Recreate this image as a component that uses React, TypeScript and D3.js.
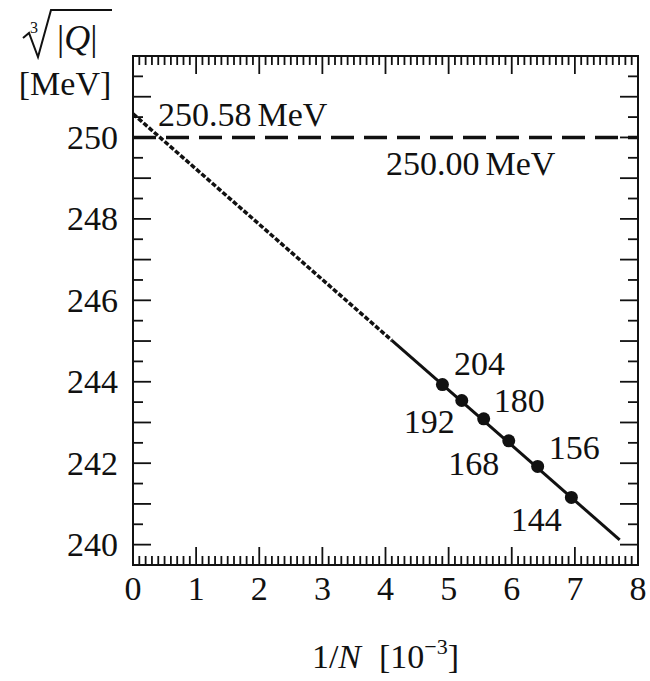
import React, { useEffect, useRef } from 'react'
import * as d3 from 'd3'

// lattice sizes N and the cube root of |Q| (MeV)
const sizes = [204, 192, 180, 168, 156, 144]
const cubeRootQ = [243.93, 243.54, 243.09, 242.55, 241.92, 241.16]

// linear fit in 1/N, extrapolated to N -> infinity
const fitIntercept = 250.58
const fitSlope = -1.357
const fitDottedEnd = 4.1
const fitEnd = 7.71
const refLevel = 250.0

const xTicks = [0, 1, 2, 3, 4, 5, 6, 7, 8]
const yTicks = [240, 242, 244, 246, 248, 250]

// where each N label sits relative to its point
const labelOffsets: [number, number, string][] = [
  [37, -10, 'middle'],
  [-7, 33, 'end'],
  [10, -7, 'start'],
  [-35, 34, 'middle'],
  [11, -7, 'start'],
  [-35, 34, 'middle'],
]

const W = 650
const H = 681
const FONT = "'Liberation Serif', 'DejaVu Serif', serif"

export default function App() {
  const ref = useRef<SVGSVGElement>(null)

  useEffect(() => {
    const svg = d3.select(ref.current)
    svg.selectAll('*').remove()

    const left = 133, right = 638, top = 56, bottom = 565
    const x = d3.scaleLinear().domain([0, 8]).range([left, right])
    const y = d3.scaleLinear().domain([239.5, 252]).range([bottom, top])

    const g = svg.append('g')

    // minor / major ticks on all four sides, pointing inwards
    const xMinor = x.ticks(80).filter(d => d > 0 && d < 8 && Math.abs(d - Math.round(d)) > 1e-6)
    const xMajor = xTicks.filter(d => d > 0 && d < 8)
    const yMinor = y.ticks(25).filter(d => d > 239.5 && d < 252 && Math.abs(d - Math.round(d)) > 1e-6)
    const yMajor = y.ticks(25).filter(d => d > 239.5 && d < 252 && Math.abs(d - Math.round(d)) < 1e-6)

    const tick = (data: number[], fn: (d: number) => [number, number, number, number]) =>
      g.append('g').selectAll('line').data(data).enter().append('line')
        .attr('x1', d => fn(d)[0]).attr('y1', d => fn(d)[1])
        .attr('x2', d => fn(d)[2]).attr('y2', d => fn(d)[3])
        .attr('stroke', '#111').attr('stroke-width', 1.8)

    tick(xMinor, d => [x(d), bottom, x(d), bottom - 9])
    tick(xMajor, d => [x(d), bottom, x(d), bottom - 18])
    tick(xMinor, d => [x(d), top, x(d), top + 9])
    tick(xMajor, d => [x(d), top, x(d), top + 18])
    tick(yMinor, d => [left, y(d), left + 10, y(d)])
    tick(yMajor, d => [left, y(d), left + 18, y(d)])
    tick(yMinor, d => [right, y(d), right - 10, y(d)])
    tick(yMajor, d => [right, y(d), right - 18, y(d)])

    // frame
    g.append('rect')
      .attr('x', left).attr('y', top)
      .attr('width', right - left).attr('height', bottom - top)
      .attr('fill', 'none').attr('stroke', '#111').attr('stroke-width', 2)

    // tick labels
    g.selectAll('.xlab').data(xTicks).enter().append('text')
      .attr('x', d => x(d)).attr('y', 600)
      .attr('text-anchor', 'middle')
      .attr('font-family', FONT).attr('font-size', 34).attr('fill', '#111')
      .text(d => d)

    g.selectAll('.ylab').data(yTicks).enter().append('text')
      .attr('x', 118).attr('y', d => y(d)).attr('dy', '0.34em')
      .attr('text-anchor', 'end')
      .attr('font-family', FONT).attr('font-size', 34).attr('fill', '#111')
      .text(d => d)

    // reference level
    g.append('line')
      .attr('x1', x(0)).attr('x2', x(8))
      .attr('y1', y(refLevel)).attr('y2', y(refLevel))
      .attr('stroke', '#111').attr('stroke-width', 3.5)
      .attr('stroke-dasharray', '23,10')

    // fitted line: dotted extrapolation, solid over the data
    const fit = (v: number) => fitIntercept + fitSlope * v
    const line = d3.line<number>().x(d => x(d)).y(d => y(fit(d)))
    g.append('path').attr('d', line([0, fitDottedEnd]))
      .attr('fill', 'none').attr('stroke', '#111').attr('stroke-width', 3.5)
      .attr('stroke-dasharray', '5,2')
    g.append('path').attr('d', line([fitDottedEnd, fitEnd]))
      .attr('fill', 'none').attr('stroke', '#111').attr('stroke-width', 3)

    // points + labels
    const pts = sizes.map((n, i) => ({ n, v: 1000 / n, q: cubeRootQ[i], off: labelOffsets[i] }))
    g.selectAll('.pt').data(pts).enter().append('circle')
      .attr('cx', d => x(d.v)).attr('cy', d => y(d.q)).attr('r', 6.5)
      .attr('fill', '#111')
    g.selectAll('.ptlab').data(pts).enter().append('text')
      .attr('x', d => x(d.v) + d.off[0]).attr('y', d => y(d.q) + d.off[1])
      .attr('text-anchor', d => d.off[2])
      .attr('font-family', FONT).attr('font-size', 34).attr('fill', '#111')
      .text(d => d.n)

    // value annotations
    const ann1 = g.append('text').attr('x', 158).attr('y', 126)
      .attr('font-family', FONT).attr('font-size', 34).attr('fill', '#111')
    ann1.append('tspan').text(fitIntercept.toFixed(2))
    ann1.append('tspan').attr('dx', 6).text('MeV')

    const ann2 = g.append('text').attr('x', 386).attr('y', 175)
      .attr('font-family', FONT).attr('font-size', 34).attr('fill', '#111')
    ann2.append('tspan').text(refLevel.toFixed(2))
    ann2.append('tspan').attr('dx', 6).text('MeV')

    // y title: cube root of |Q|, [MeV]
    g.append('path')
      .attr('d', 'M23,38 L29,33 L38,57 L51,10 L112,10')
      .attr('fill', 'none').attr('stroke', '#111').attr('stroke-width', 2)
    g.append('text').attr('x', 30).attr('y', 33)
      .attr('font-family', FONT).attr('font-size', 16).attr('fill', '#111')
      .text('3')
    const qt = g.append('text').attr('x', 57).attr('y', 50)
      .attr('font-family', FONT).attr('font-size', 36).attr('fill', '#111')
    qt.append('tspan').text('|')
    qt.append('tspan').attr('font-style', 'italic').text('Q')
    qt.append('tspan').text('|')
    g.append('text').attr('x', 65).attr('y', 95)
      .attr('text-anchor', 'middle')
      .attr('font-family', FONT).attr('font-size', 34).attr('fill', '#111')
      .text('[MeV]')

    // x title: 1/N [10^-3]
    const xt = g.append('text').attr('x', (left + right) / 2).attr('y', 668)
      .attr('text-anchor', 'middle')
      .attr('font-family', FONT).attr('font-size', 34).attr('fill', '#111')
    xt.append('tspan').text('1/')
    xt.append('tspan').attr('font-style', 'italic').text('N')
    xt.append('tspan').attr('dx', 18).text('[10')
    xt.append('tspan').attr('font-size', 22).attr('dy', -14).text('−3')
    xt.append('tspan').attr('dy', 14).text(']')
  }, [])

  return (
    <svg ref={ref} width={W} height={H}
      style={{ position: 'absolute', left: 0, top: 0, background: '#fff' }} />
  )
}
